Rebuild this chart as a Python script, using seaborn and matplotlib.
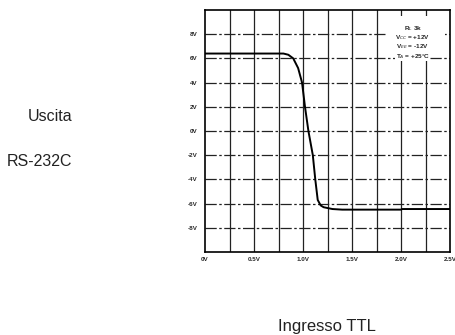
import numpy as np
import pandas as pd
import seaborn as sns
import matplotlib.pyplot as plt
import matplotlib.patches as mpatch

# transfer curve
x_in = [0.0, 0.80, 0.85, 0.90, 0.95, 0.99, 1.02, 1.055, 1.10, 1.125, 1.15, 1.18, 1.21, 1.30, 1.40, 2.0, 2.01, 2.5]
v_out = [6.4, 6.4, 6.3, 6.0, 5.2, 4.0, 2.0, 0.0, -2.0, -4.0, -5.7, -6.15, -6.3, -6.45, -6.5, -6.5, -6.45, -6.45]

x_ticks = [0.0, 0.5, 1.0, 1.5, 2.0, 2.5]
x_labels = ["0V", "0.5V", "1.0V", "1.5V", "2.0V", "2.5V"]
y_ticks = [8, 6, 4, 2, 0, -2, -4, -6, -8]
y_labels = ["8V", "6V", "4V", "2V", "0V", "-2V", "-4V", "-6V", "-8V"]
cond_lines = ["R$_L$ 3k", "V$_{CC}$ = +12V", "V$_{EE}$ = -12V", "T$_A$ = +25\u00b0C"]

sns.set_style("white")
plt.rcParams['font.family'] = ['Liberation Sans', 'DejaVu Sans']

fig = plt.figure(figsize=(4.56, 3.35), dpi=100)
ax = fig.add_axes([0.4496, 0.2478, 0.5373, 0.7224])

# grid: solid verticals, dash-dot horizontals
for gx in np.arange(0.25, 2.5, 0.25):
    ax.axvline(gx, color='#222222', lw=0.9, zorder=1)
for gy in np.arange(-8, 10, 2):
    ax.axhline(gy, color='#222222', lw=0.9, dashes=(9, 2, 2, 2), zorder=1)

# blank area for the test conditions
ax.add_patch(mpatch.Rectangle((1.87, 6.5), 0.58, 3.0, facecolor='white',
                              edgecolor='none', zorder=2))
ty = [8.45, 7.75, 7.0, 6.15]
for t, yy in zip(cond_lines, ty):
    ax.text(2.12, yy, t, fontsize=4.6, fontweight='bold', ha='center', va='center',
            zorder=3, bbox=dict(facecolor='white', edgecolor='none', pad=0.3))

df = pd.DataFrame({"x": x_in, "v": v_out})
sns.lineplot(data=df, x="x", y="v", color='black', lw=1.4, ax=ax, zorder=4,
             estimator=None, sort=False)

ax.set_xlim(0, 2.5)
ax.set_ylim(-10, 10)
ax.set_xticks(x_ticks)
ax.set_xticklabels(x_labels, fontsize=4.5, fontweight='bold')
ax.set_yticks(y_ticks)
ax.set_yticklabels(y_labels, fontsize=4.5, fontweight='bold')
ax.tick_params(axis='both', length=0)
ax.tick_params(axis='y', pad=5.5)
ax.tick_params(axis='x', pad=3.5)
ax.set_xlabel("")
ax.set_ylabel("")
for s in ax.spines.values():
    s.set_color('black')
    s.set_linewidth(1.2)
    s.set_visible(True)

fig.text(72 / 456, 1 - 117 / 335, "Uscita", fontsize=11.5, ha='right', va='center', color='#222222')
fig.text(72 / 456, 1 - 162 / 335, "RS-232C", fontsize=11.5, ha='right', va='center', color='#222222')
fig.text(327 / 456, 1 - 327 / 335, "Ingresso TTL", fontsize=12, ha='center', va='center', color='#222222')

fig.savefig("out.png", dpi=100)
